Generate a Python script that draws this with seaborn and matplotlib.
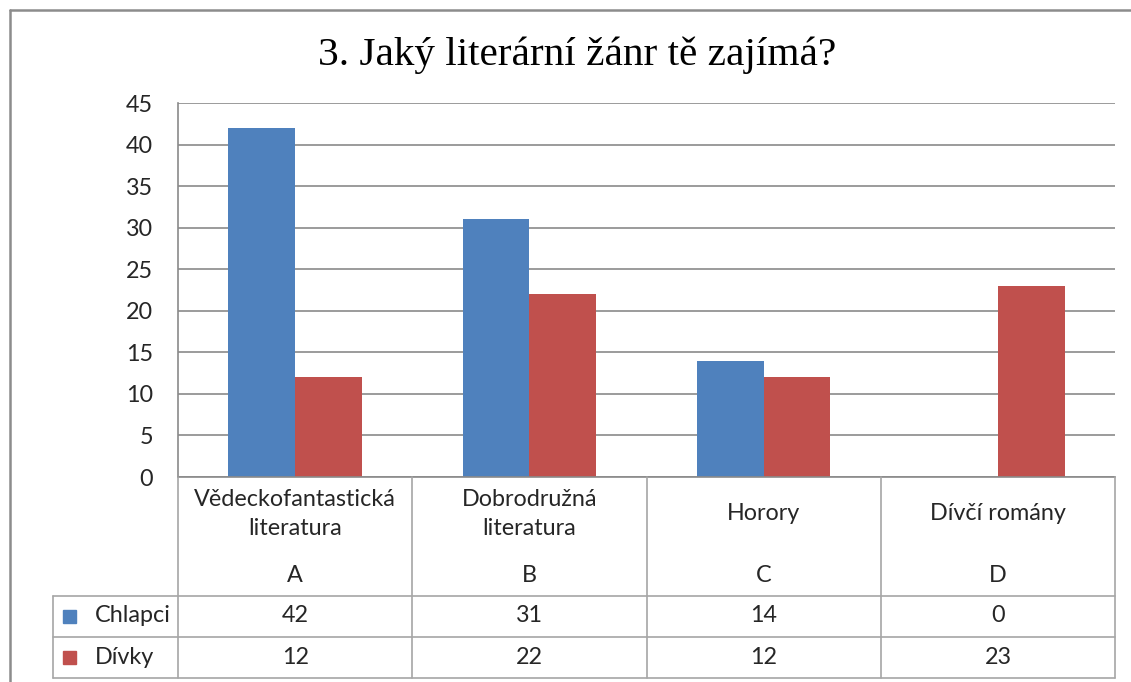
import matplotlib
matplotlib.use("Agg")
import matplotlib.pyplot as plt
import matplotlib.transforms as mtransforms
from matplotlib.lines import Line2D
from matplotlib.patches import Rectangle
import seaborn as sns
import pandas as pd

# ---- data ----
categories = ["Vědeckofantastická\nliteratura", "Dobrodružná\nliteratura", "Horory", "Dívčí romány"]
letters = ["A", "B", "C", "D"]
series_names = ["Chlapci", "Dívky"]
chlapci = [42, 31, 14, 0]
divky = [12, 22, 12, 23]
title = "3. Jaký literární žánr tě zajímá?"
yticks = [0, 5, 10, 15, 20, 25, 30, 35, 40, 45]

colors = ["#4F81BD", "#C0504D"]

df = pd.DataFrame({
    "cat": categories * 2,
    "series": [series_names[0]] * 4 + [series_names[1]] * 4,
    "value": chlapci + divky,
})

sns.set_style("white")
plt.rcParams["font.family"] = ["Lato", "DejaVu Sans"]

W, H = 1131, 682
fig = plt.figure(figsize=(W / 100, H / 100), dpi=100)
fx = lambda x: x / W
fy = lambda y: 1 - y / H

FS = 16.8
TXT = "#262626"

ax = fig.add_axes([fx(178), fy(477), fx(1115) - fx(178), fy(103) - fy(477)])
sns.barplot(data=df, x="cat", y="value", hue="series", palette=colors,
            width=0.57, order=categories, hue_order=series_names,
            ax=ax, legend=False, linewidth=0, saturation=1)

ax.set_xlim(-0.5, 3.5)
ax.set_ylim(0, 45)
ax.set_yticks(yticks)
ax.set_yticklabels([str(t) for t in yticks], fontsize=FS, color=TXT)
ax.set_xticks([])
ax.set_xlabel("")
ax.set_ylabel("")
ax.tick_params(axis="y", length=0, pad=18)
grid_c = "#8a8a8a"
ax.yaxis.grid(True, color=grid_c, linewidth=1.2)
ax.set_axisbelow(True)
for s in ["top", "right"]:
    ax.spines[s].set_visible(False)
ax.spines["left"].set_color(grid_c)
ax.spines["left"].set_linewidth(1.2)
ax.spines["bottom"].set_color(grid_c)
ax.spines["bottom"].set_linewidth(1.2)

# title
fig.text(0.5 * (fx(320) + fx(835)), fy(55), title, ha="center", va="center",
         fontsize=29.7, family=["Liberation Serif", "DejaVu Serif"], color="#000000")

# ---- data table ----
tc = "#a6a6a6"
lw = 1.2
blend = mtransforms.blended_transform_factory(ax.transData, fig.transFigure)
for y in [596, 637, 678]:
    fig.add_artist(Line2D([fx(53), fx(1115)], [fy(y), fy(y)], color=tc, lw=lw))
fig.add_artist(Line2D([fx(53), fx(53)], [fy(596), fy(678)], color=tc, lw=lw))
fig.add_artist(Line2D([fx(178), fx(178)], [fy(477), fy(678)], color=tc, lw=lw))
for i in range(1, len(categories) + 1):
    xb = i - 0.5
    fig.add_artist(Line2D([xb, xb], [fy(477), fy(678)], color=tc, lw=lw,
                          transform=blend))

# header texts
for i, (c, l) in enumerate(zip(categories, letters)):
    fig.text(i, fy(514), c, transform=blend, ha="center", va="center",
             fontsize=FS, color=TXT, linespacing=1.5)
    fig.text(i, fy(576), l, transform=blend, ha="center", va="center",
             fontsize=FS, color=TXT)

# values
for r, (vals, yc) in enumerate([(chlapci, 616), (divky, 657)]):
    for i, v in enumerate(vals):
        fig.text(i, fy(yc), str(v), transform=blend, ha="center", va="center",
                 fontsize=FS, color=TXT)
    fig.add_artist(Rectangle((fx(63), fy(yc + 7)), fx(13), fy(0) - fy(13),
                             color=colors[r], transform=fig.transFigure))
    fig.text(fx(95), fy(yc), series_names[r], ha="left", va="center",
             fontsize=FS, color=TXT)

# outer border
bc = "#8c8c8c"
fig.add_artist(Line2D([fx(10), fx(1131)], [fy(10), fy(10)], color=bc, lw=1.8))
fig.add_artist(Line2D([fx(10), fx(10)], [fy(10), fy(682)], color=bc, lw=1.8))

fig.savefig("out.png", dpi=100)
